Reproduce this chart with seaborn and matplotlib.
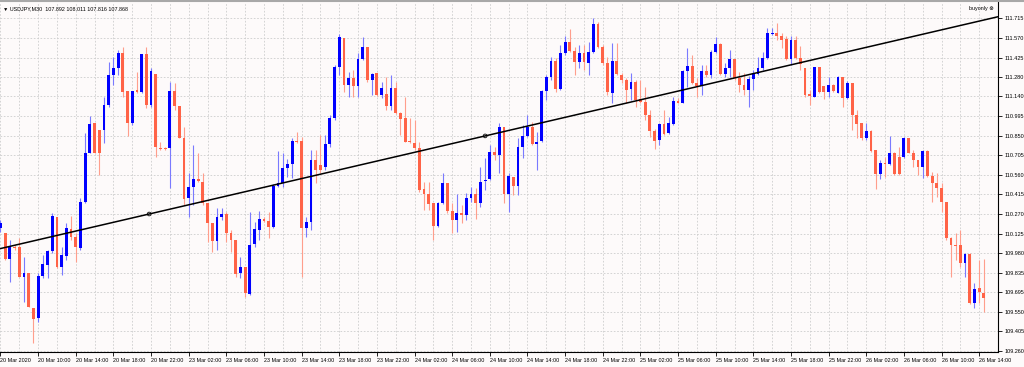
import numpy as np
import matplotlib
matplotlib.use("Agg")
import matplotlib.pyplot as plt
from matplotlib.lines import Line2D
import seaborn as sns

# USDJPY M30 candles, 20 Mar 06:00 -> 26 Mar 14:30
opens = [
    110.165, 110.133, 109.936, 110.030, 110.025, 109.808, 109.833, 109.580, 109.501, 109.816,
    109.895, 110.000, 110.251, 109.882, 109.961, 110.160, 110.104, 110.018, 110.362, 110.724,
    110.940, 110.891, 110.891, 111.075, 111.297, 111.351, 111.462, 111.179, 110.940, 111.186,
    111.169, 111.452, 111.075, 111.302, 110.761, 110.761, 110.761, 111.179, 111.071, 110.834,
    110.387, 110.473, 110.529, 110.510, 110.355, 110.202, 110.072, 110.246, 110.271, 110.128,
    110.079, 109.833, 109.882, 109.681, 110.047, 110.153, 110.234, 110.219, 110.173, 110.480,
    110.497, 110.608, 110.640, 110.810, 110.810, 110.165, 110.212, 110.670, 110.633, 110.620,
    110.785, 110.977, 111.358, 111.572, 111.223, 111.277, 111.218, 111.415, 111.506, 111.260,
    111.309, 111.149, 111.157, 111.068, 111.198, 111.014, 110.977, 110.810, 110.797, 110.756,
    110.453, 110.419, 110.350, 110.183, 110.350, 110.502, 110.296, 110.227, 110.276, 110.266,
    110.387, 110.416, 110.350, 110.515, 110.527, 110.726, 110.706, 110.911, 110.416, 110.547,
    110.478, 110.763, 110.847, 110.915, 110.785, 110.810, 111.179, 111.285, 111.403, 111.191,
    111.457, 111.538, 111.476, 111.395, 111.462, 111.383, 111.469, 111.673, 111.506, 111.388,
    111.166, 111.403, 111.297, 111.260, 111.191, 111.248, 111.117, 111.100, 111.002, 110.886,
    110.817, 110.935, 110.866, 110.935, 111.107, 111.093, 111.326, 111.363, 111.235, 111.216,
    111.329, 111.297, 111.464, 111.526, 111.304, 111.346, 111.415, 111.272, 111.223, 111.186,
    111.265, 111.302, 111.351, 111.420, 111.599, 111.604, 111.587, 111.560, 111.412, 111.555,
    111.425, 111.346, 111.154, 111.137, 111.353, 111.216, 111.174, 111.223, 111.166, 111.285,
    111.125, 111.240, 111.002, 110.940, 110.834, 110.884, 110.743, 110.566, 110.645, 110.640,
    110.719, 110.694, 110.694, 110.834, 110.724, 110.670, 110.620, 110.738, 110.551, 110.502,
    110.460, 110.362, 110.091, 110.042, 110.042, 109.907, 109.976, 109.617, 109.722, 109.690,
]
highs = [
    110.227, 110.133, 110.079, 110.042, 110.091, 109.956, 109.833, 109.580, 109.833, 109.968,
    110.005, 110.281, 110.251, 110.030, 110.202, 110.256, 110.128, 110.391, 110.866, 110.994,
    110.940, 110.891, 111.132, 111.395, 111.432, 111.481, 111.506, 111.179, 111.179, 111.321,
    111.452, 111.501, 111.346, 111.302, 110.805, 110.768, 111.248, 111.235, 111.071, 110.915,
    110.571, 110.780, 110.719, 110.571, 110.355, 110.202, 110.313, 110.313, 110.288, 110.153,
    110.079, 109.956, 109.882, 110.283, 110.215, 110.293, 110.251, 110.288, 110.490, 110.736,
    110.719, 110.674, 110.834, 110.879, 110.842, 110.251, 110.743, 110.743, 110.854, 110.854,
    111.002, 111.371, 111.599, 111.572, 111.321, 111.334, 111.457, 111.575, 111.506, 111.309,
    111.309, 111.248, 111.285, 111.297, 111.248, 111.026, 111.132, 110.977, 110.965, 110.805,
    110.510, 110.510, 110.350, 110.362, 110.571, 110.502, 110.350, 110.419, 110.337, 110.424,
    110.473, 110.460, 110.620, 110.682, 110.780, 110.768, 110.940, 110.911, 110.571, 110.547,
    110.829, 110.928, 111.002, 110.952, 110.879, 111.186, 111.297, 111.432, 111.420, 111.518,
    111.585, 111.634, 111.506, 111.518, 111.518, 111.543, 111.715, 111.690, 111.518, 111.432,
    111.535, 111.531, 111.309, 111.272, 111.309, 111.260, 111.260, 111.206, 111.039, 110.896,
    110.940, 111.039, 110.989, 111.132, 111.125, 111.334, 111.494, 111.444, 111.272, 111.371,
    111.371, 111.481, 111.575, 111.531, 111.383, 111.481, 111.415, 111.321, 111.309, 111.289,
    111.334, 111.432, 111.469, 111.641, 111.641, 111.678, 111.609, 111.585, 111.585, 111.585,
    111.511, 111.346, 111.186, 111.358, 111.353, 111.216, 111.285, 111.230, 111.289, 111.285,
    111.255, 111.240, 111.039, 110.940, 110.945, 110.891, 110.743, 110.670, 110.694, 110.847,
    110.731, 110.763, 110.842, 110.834, 110.743, 110.670, 110.743, 110.743, 110.583, 110.571,
    110.497, 110.362, 110.104, 110.128, 110.153, 109.986, 109.981, 109.759, 109.931, 109.936,
]
lows = [
    110.141, 109.931, 109.772, 110.005, 109.808, 109.624, 109.587, 109.317, 109.476, 109.796,
    109.796, 109.981, 109.870, 109.821, 109.931, 110.079, 109.919, 110.005, 110.355, 110.719,
    110.719, 110.559, 110.793, 111.063, 111.223, 111.297, 111.132, 110.847, 110.928, 111.166,
    111.162, 111.051, 111.063, 110.694, 110.743, 110.743, 110.460, 111.039, 110.829, 110.337,
    110.251, 110.337, 110.510, 110.337, 110.067, 109.993, 110.005, 110.227, 110.067, 109.993,
    109.808, 109.796, 109.656, 109.673, 110.030, 110.079, 110.215, 110.091, 110.165, 110.473,
    110.473, 110.547, 110.534, 110.793, 109.808, 110.104, 110.153, 110.502, 110.571, 110.596,
    110.768, 110.965, 111.297, 111.174, 111.137, 111.137, 111.132, 111.408, 111.248, 111.149,
    111.142, 111.125, 111.039, 111.039, 111.009, 110.854, 110.800, 110.793, 110.743, 110.436,
    110.301, 110.301, 110.079, 110.178, 110.342, 110.281, 110.128, 110.141, 110.202, 110.227,
    110.362, 110.232, 110.325, 110.448, 110.522, 110.670, 110.571, 110.355, 110.288, 110.411,
    110.411, 110.682, 110.842, 110.780, 110.596, 110.805, 111.112, 111.260, 111.174, 111.186,
    111.444, 111.469, 111.297, 111.346, 111.334, 111.297, 111.462, 111.494, 111.371, 111.149,
    111.093, 111.297, 111.235, 111.088, 111.112, 111.063, 111.088, 110.965, 110.837, 110.748,
    110.780, 110.854, 110.861, 110.928, 111.088, 111.088, 111.211, 111.230, 111.132, 111.149,
    111.285, 111.272, 111.457, 111.297, 111.285, 111.285, 111.260, 111.174, 111.149, 111.058,
    111.186, 111.297, 111.334, 111.415, 111.592, 111.555, 111.494, 111.408, 111.371, 111.412,
    111.334, 111.132, 111.075, 111.132, 111.162, 111.117, 111.137, 111.174, 111.166, 111.058,
    111.120, 110.891, 110.829, 110.817, 110.817, 110.731, 110.453, 110.527, 110.547, 110.633,
    110.559, 110.559, 110.682, 110.719, 110.620, 110.559, 110.534, 110.547, 110.362, 110.399,
    110.288, 110.079, 109.808, 109.931, 109.882, 109.808, 109.607, 109.575, 109.612, 109.550,
]
closes = [
    110.202, 109.936, 110.030, 110.023, 109.808, 109.833, 109.587, 109.494, 109.816, 109.902,
    110.000, 110.259, 109.882, 109.968, 110.165, 110.104, 110.025, 110.362, 110.724, 110.933,
    110.724, 110.724, 111.078, 111.297, 111.346, 111.462, 111.174, 110.940, 111.179, 111.169,
    111.452, 111.075, 111.326, 110.768, 110.748, 110.751, 111.179, 111.071, 110.834, 110.379,
    110.473, 110.529, 110.515, 110.355, 110.202, 110.072, 110.246, 110.271, 110.128, 110.079,
    109.826, 109.882, 109.686, 110.042, 110.158, 110.232, 110.219, 110.178, 110.480, 110.497,
    110.608, 110.640, 110.810, 110.800, 110.165, 110.212, 110.670, 110.596, 110.596, 110.785,
    110.977, 111.358, 111.575, 111.223, 111.277, 111.218, 111.415, 111.506, 111.260, 111.302,
    111.149, 111.198, 111.068, 111.198, 111.014, 110.970, 110.805, 110.800, 110.756, 110.448,
    110.419, 110.342, 110.183, 110.350, 110.502, 110.296, 110.227, 110.276, 110.266, 110.387,
    110.416, 110.350, 110.505, 110.524, 110.726, 110.706, 110.911, 110.419, 110.554, 110.478,
    110.768, 110.847, 110.915, 110.785, 110.805, 111.179, 111.285, 111.403, 111.191, 111.457,
    111.538, 111.476, 111.395, 111.462, 111.395, 111.469, 111.673, 111.506, 111.383, 111.174,
    111.403, 111.302, 111.260, 111.186, 111.248, 111.112, 111.100, 111.002, 110.886, 110.812,
    110.935, 110.861, 110.940, 111.107, 111.093, 111.326, 111.363, 111.235, 111.216, 111.329,
    111.297, 111.464, 111.526, 111.304, 111.346, 111.415, 111.272, 111.223, 111.186, 111.265,
    111.302, 111.351, 111.420, 111.604, 111.609, 111.587, 111.555, 111.412, 111.555, 111.420,
    111.376, 111.149, 111.142, 111.353, 111.174, 111.174, 111.223, 111.181, 111.285, 111.125,
    111.240, 111.002, 110.935, 110.834, 110.884, 110.738, 110.566, 110.650, 110.638, 110.719,
    110.566, 110.566, 110.834, 110.724, 110.670, 110.615, 110.738, 110.551, 110.497, 110.460,
    110.362, 110.091, 110.042, 110.035, 109.907, 109.976, 109.617, 109.715, 109.698, 109.649,
]

# one label every 8 bars (4 hours)
x_labels = [
    "20 Mar 2020", "20 Mar 10:00", "20 Mar 14:00", "20 Mar 18:00", "20 Mar 22:00",
    "23 Mar 02:00", "23 Mar 06:00", "23 Mar 10:00", "23 Mar 14:00", "23 Mar 18:00",
    "23 Mar 22:00", "24 Mar 02:00", "24 Mar 06:00", "24 Mar 10:00", "24 Mar 14:00",
    "24 Mar 18:00", "24 Mar 22:00", "25 Mar 02:00", "25 Mar 06:00", "25 Mar 10:00",
    "25 Mar 14:00", "25 Mar 18:00", "25 Mar 22:00", "26 Mar 02:00", "26 Mar 06:00",
    "26 Mar 10:00", "26 Mar 14:00",
]
price_ticks = [
    109.260, 109.405, 109.550, 109.695, 109.835, 109.980, 110.125, 110.270, 110.415,
    110.560, 110.705, 110.850, 110.995, 111.140, 111.280, 111.425, 111.570, 111.715,
]

# trend line anchors (bar index, price)
trend_bar = [31.6, 103.0]
trend_price = [110.271, 110.847]

header = "\u25bc USDJPY,M30  107.892 108.011 107.816 107.868"

bg = "#fdfafa"
blue, red = "#0000ff", "#ff6347"
blue_wick, red_wick = "#7a7aff", "#ff9e8c"

sns.set_theme(style="white")
plt.rcParams["font.family"] = ["Liberation Sans", "DejaVu Sans"]

fig = plt.figure(figsize=(10.24, 3.67), dpi=100, facecolor=bg)
ax = fig.add_axes([0, 15 / 367, 998 / 1024, 350 / 367])
ax.set_facecolor(bg)

o = np.array(opens)
h = np.array(highs)
l = np.array(lows)
c = np.array(closes)
idx = np.arange(len(o))
up = c >= o
body_lo = np.minimum(o, c)
body_h = np.maximum(np.abs(c - o), 0.004)

ax.vlines(idx[up], l[up], h[up], color=blue_wick, lw=0.8, zorder=2)
ax.vlines(idx[~up], l[~up], h[~up], color=red_wick, lw=0.8, zorder=2)
ax.bar(idx[up], body_h[up], bottom=body_lo[up], width=0.6, color=blue, lw=0, zorder=3)
ax.bar(idx[~up], body_h[~up], bottom=body_lo[~up], width=0.6, color=red, lw=0, zorder=3)

ax.axline((trend_bar[0], trend_price[0]), (trend_bar[1], trend_price[1]),
          color="black", lw=1.1, zorder=4)
sns.scatterplot(x=trend_bar, y=trend_price, ax=ax, marker="o", s=7,
                color="black", linewidth=0.6, zorder=5)
ax.collections[-1].set_facecolor("none")
ax.collections[-1].set_edgecolor("black")

ax.set_xlim(-0.1, 210.1)
ax.set_ylim(109.253, 111.835)

ax.set_xticks(np.arange(0, 8 * len(x_labels), 8))
ax.set_xticklabels(x_labels, ha="left")
ax.set_xticks(np.arange(4, 8 * len(x_labels), 8), minor=True)
ax.yaxis.tick_right()
ax.set_yticks(price_ticks)
ax.set_yticklabels([f"{v:.3f}" for v in price_ticks])

ax.grid(True, which="both", ls=(0, (2, 2)), color="#cdcdcd", lw=0.6)
ax.set_axisbelow(True)
ax.tick_params(axis="x", which="major", length=3, width=0.6, pad=1,
               labelsize=3.9, colors="black", direction="out", bottom=True)
ax.tick_params(axis="x", which="minor", length=0)
ax.tick_params(axis="y", length=3, width=0.6, pad=1.5, labelsize=4.0,
               colors="black", direction="out", right=True)

for side in ["top", "left"]:
    ax.spines[side].set_visible(False)
for side in ["right", "bottom"]:
    ax.spines[side].set_color("black")
    ax.spines[side].set_linewidth(0.8)

ax.text(0.003, 0.988, header, transform=ax.transAxes, va="top", ha="left",
        fontsize=3.9, color="black")
ax.text(0.996, 0.988, "buyonly \u2297", transform=ax.transAxes, va="top", ha="right",
        fontsize=3.9, color="black")

fig.add_artist(Line2D([0, 1], [0.997, 0.997], transform=fig.transFigure,
                      color="#a8a8a8", lw=1.5))

fig.savefig("out.png", dpi=100, facecolor=fig.get_facecolor())
